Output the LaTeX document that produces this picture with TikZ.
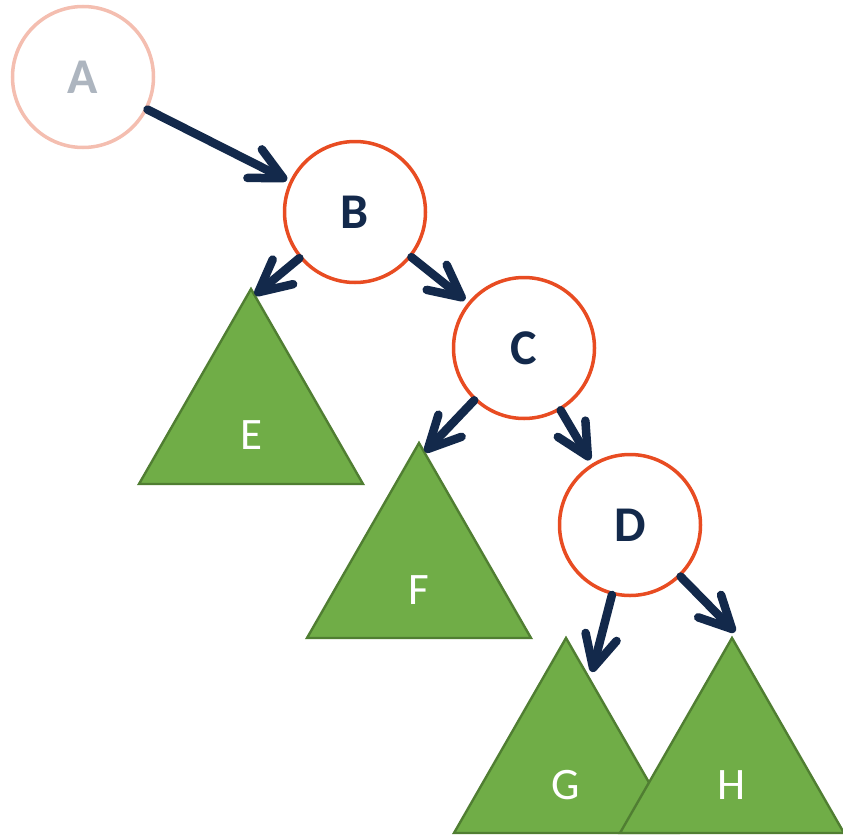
\documentclass[tikz,border=0pt]{standalone}
\usepackage{fontspec}
\setmainfont{Carlito}
\usetikzlibrary{arrows.meta}
\definecolor{navy}{HTML}{13294B}
\definecolor{ored}{HTML}{E84C22}
\definecolor{pinkc}{HTML}{F4BEB0}
\definecolor{greyl}{HTML}{ADB5BF}
\definecolor{gfill}{HTML}{70AD47}
\definecolor{gline}{HTML}{507E32}
\tikzset{
  circ/.style={circle, draw=ored, line width=3.5pt, fill=white, minimum size=141pt, inner sep=0pt,
    text=navy, font=\fontsize{50}{60}\selectfont\bfseries},
  faded/.style={draw=pinkc, text=greyl},
  tri/.style={fill=gfill, draw=gline, line width=2.4pt, line join=miter},
  tlabel/.style={text=white, inner sep=0pt, font=\fontsize{45}{54}\selectfont},
  arr/.style={draw=navy, line width=8.5pt, line cap=round, line join=round,
    -{Straight Barb[length=32pt, width=32pt, line cap=round, line join=round]}},
}
\begin{document}
\begin{tikzpicture}[x=1pt, y=-1pt]
\useasboundingbox (0,0) rectangle (843,835);
% triangles
\draw[tri] (251,289) -- (363,484) -- (139,484) -- cycle;
\draw[tri] (419,443) -- (531,638) -- (307,638) -- cycle;
\draw[tri] (566,638) -- (678,833) -- (454,833) -- cycle;
\draw[tri] (732,638) -- (844,833) -- (620,833) -- cycle;
\node[tlabel] (E) at (251,435) {E};
\node[tlabel] (F) at (419,590) {F};
\node[tlabel] (G) at (566,785) {G};
\node[tlabel] (H) at (732,785) {H};
% circles
\node[circ, faded] (A) at (83,77) {A};
\node[circ] (B) at (355,212) {B};
\node[circ] (C) at (524,348) {C};
\node[circ] (D) at (630,525) {D};
% arrow tips
\coordinate (tAB) at (287,180);
\coordinate (tBE) at (255,295);
\coordinate (tBC) at (465,300);
\coordinate (tCF) at (425,452);
\coordinate (tCD) at (590,460);
\coordinate (tDG) at (592,672);
\coordinate (tDH) at (735,632);
\draw[arr] (A) -- (tAB);
\draw[arr] (B) -- (tBE);
\draw[arr] (B) -- (tBC);
\draw[arr] (C) -- (tCF);
\draw[arr] (C) -- (tCD);
\draw[arr] (D) -- (tDG);
\draw[arr] (D) -- (tDH);
\end{tikzpicture}
\end{document}
